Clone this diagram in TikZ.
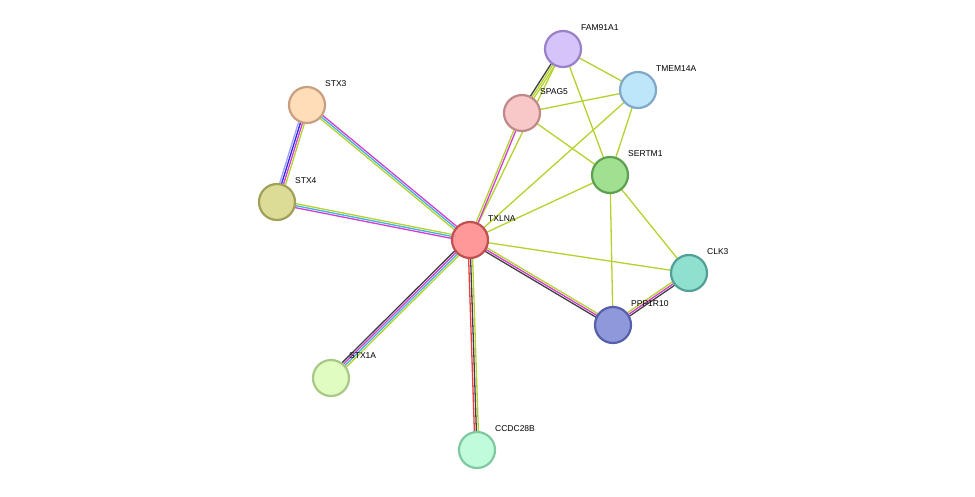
\documentclass[tikz,border=0pt]{standalone}
\usepackage{fontspec}
\setmainfont{Liberation Sans}
\usetikzlibrary{calc}
\definecolor{lime}{HTML}{B4D22D}
\definecolor{mag}{HTML}{D23CD2}
\definecolor{cy}{HTML}{3CB4DC}
\definecolor{dk}{HTML}{404040}
\definecolor{rd}{HTML}{F03C3C}
\definecolor{bl}{HTML}{2828F0}
\definecolor{lb}{HTML}{A0A0FA}
\newcommand\medge[4]{% #1 a, #2 b, #3 n, #4 colour list
  \foreach \c [count=\i] in {#4}{
    \pgfmathsetmacro\off{(\i-(#3+1)/2)*2.0}
    \draw[\c,line width=1.3pt] ($(#1)!\off pt!90:(#2)$) -- ($(#2)!\off pt!-90:(#1)$);
  }}
\begin{document}
\begin{tikzpicture}[x=1pt,y=-1pt,
  prot/.style={circle,minimum size=36pt,inner sep=0pt,line width=2.2pt},
  lab/.style={font=\fontsize{8.5}{10}\selectfont,anchor=west,inner sep=1pt}]
\useasboundingbox (0,0) rectangle (975,496);
\coordinate (txlna) at (470,240);
\coordinate (fam) at (563,49);
\coordinate (tmem) at (638,90);
\coordinate (spag) at (522,113);
\coordinate (sertm) at (610,175);
\coordinate (clk) at (689,273);
\coordinate (ppp) at (613,325);
\coordinate (stx3) at (307,105);
\coordinate (stx4) at (277,202);
\coordinate (stx1a) at (331,378);
\coordinate (ccdc) at (477,450);
% edges
\medge{txlna}{fam}{1}{lime}
\medge{txlna}{spag}{2}{mag,lime}
\medge{spag}{fam}{3}{lime,lime,dk}
\medge{txlna}{tmem}{1}{lime}
\medge{txlna}{sertm}{1}{lime}
\medge{txlna}{clk}{1}{lime}
\medge{txlna}{ppp}{3}{dk,mag,lime}
\medge{txlna}{ccdc}{3}{rd,dk,lime}
\medge{txlna}{stx1a}{4}{dk,mag,cy,lime}
\medge{txlna}{stx3}{3}{mag,cy,lime}
\medge{txlna}{stx4}{3}{lime,cy,mag}
\medge{stx3}{stx4}{4}{lb,bl,mag,lime}
\medge{fam}{tmem}{1}{lime}
\medge{fam}{sertm}{1}{lime}
\medge{spag}{tmem}{1}{lime}
\medge{spag}{sertm}{1}{lime}
\medge{tmem}{sertm}{1}{lime}
\medge{sertm}{clk}{1}{lime}
\medge{sertm}{ppp}{1}{lime}
\medge{ppp}{clk}{3}{dk,mag,lime}
% nodes
\node[prot,fill={rgb,255:red,255;green,153;blue,153},draw={rgb,255:red,192;green,80;blue,80}] (n1) at (txlna) {};
\node[prot,fill={rgb,255:red,212;green,196;blue,250},draw={rgb,255:red,153;green,128;blue,200}] (n2) at (fam) {};
\node[prot,fill={rgb,255:red,190;green,230;blue,250},draw={rgb,255:red,128;green,168;blue,200}] (n3) at (tmem) {};
\node[prot,fill={rgb,255:red,248;green,200;blue,200},draw={rgb,255:red,192;green,136;blue,136}] (n4) at (spag) {};
\node[prot,fill={rgb,255:red,160;green,224;blue,144},draw={rgb,255:red,92;green,160;blue,80}] (n5) at (sertm) {};
\node[prot,fill={rgb,255:red,144;green,224;blue,208},draw={rgb,255:red,80;green,160;blue,152}] (n6) at (clk) {};
\node[prot,fill={rgb,255:red,144;green,152;blue,220},draw={rgb,255:red,85;green,96;blue,168}] (n7) at (ppp) {};
\node[prot,fill={rgb,255:red,255;green,221;blue,184},draw={rgb,255:red,200;green,160;blue,128}] (n8) at (stx3) {};
\node[prot,fill={rgb,255:red,220;green,220;blue,150},draw={rgb,255:red,160;green,160;blue,88}] (n9) at (stx4) {};
\node[prot,fill={rgb,255:red,224;green,252;blue,192},draw={rgb,255:red,168;green,200;blue,136}] (n10) at (stx1a) {};
\node[prot,fill={rgb,255:red,192;green,252;blue,220},draw={rgb,255:red,128;green,200;blue,160}] (n11) at (ccdc) {};
% labels
\node[lab] (l1) at (487,219) {TXLNA};
\node[lab] (l2) at (580,28) {FAM91A1};
\node[lab] (l3) at (655,69) {TMEM14A};
\node[lab] (l4) at (539,92) {SPAG5};
\node[lab] (l5) at (627,154) {SERTM1};
\node[lab] (l6) at (706,252) {CLK3};
\node[lab] (l7) at (630,304) {PPP1R10};
\node[lab] (l8) at (324,84) {STX3};
\node[lab] (l9) at (294,181) {STX4};
\node[lab] (l10) at (348,356) {STX1A};
\node[lab] (l11) at (494,429) {CCDC28B};
\end{tikzpicture}
\end{document}
